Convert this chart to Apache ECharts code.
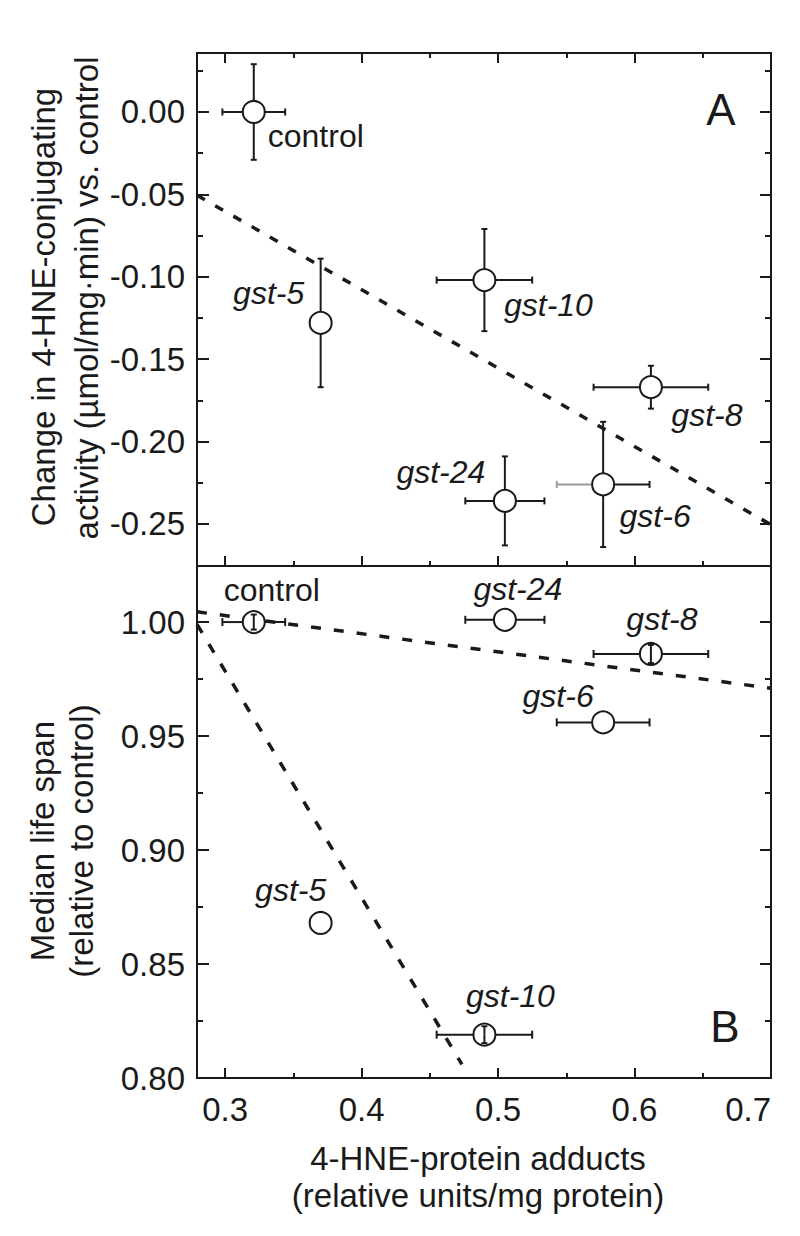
<!DOCTYPE html>
<html><head><meta charset="utf-8">
<script src="https://cdn.jsdelivr.net/npm/echarts@6/dist/echarts.min.js"></script>
<style>html,body{margin:0;padding:0;background:#fff}#c{width:800px;height:1236px}</style>
</head><body><div id="c"></div>
<script>
// ---- data ----
const strains = ['control', 'gst-5', 'gst-10', 'gst-8', 'gst-24', 'gst-6'];
const adducts = [0.321, 0.370, 0.490, 0.612, 0.505, 0.577];
const adductsErr = [0.023, 0, 0.035, 0.042, 0.029, 0.034];
const activityChange = [0.000, -0.128, -0.102, -0.167, -0.236, -0.226];
const activityErr = [0.029, 0.039, 0.031, 0.013, 0.027, 0.038];
const lifeSpan = [1.000, 0.868, 0.819, 0.986, 1.001, 0.956];
const lifeSpanErr = [0.0033, 0, 0.0037, 0.004, 0, 0];
const fitAX = [0.2794, 0.70];
const fitAY = [-0.0505, -0.2505];
const fitB1X = [0.2794, 0.70];
const fitB1Y = [1.0045, 0.971];
const fitB2X = [0.2794, 0.4735];
const fitB2Y = [0.999, 0.806];
const xRange = [0.2794, 0.70];
const yRangeA = [-0.2755, 0.0358];
const yRangeB = [0.80, 1.0246];
const xTicks = [0.3, 0.4, 0.5, 0.6, 0.7];
const xTickLabels = ['0.3', '0.4', '0.5', '0.6', '0.7'];
const xMinorTicks = [0.35, 0.45, 0.55, 0.65];
const yTicksA = [0, -0.05, -0.10, -0.15, -0.20, -0.25];
const yTickLabelsA = ['0.00', '-0.05', '-0.10', '-0.15', '-0.20', '-0.25'];
const yMinorTicksA = [0.025, -0.025, -0.075, -0.125, -0.175, -0.225];
const yTicksB = [0.80, 0.85, 0.90, 0.95, 1.00];
const yTickLabelsB = ['0.80', '0.85', '0.90', '0.95', '1.00'];
const yMinorTicksB = [0.825, 0.875, 0.925, 0.975];
const yTitleA = ['Change in 4-HNE-conjugating', 'activity (\u00b5mol/mg\u00b7min) vs. control'];
const yTitleB = ['Median life span', '(relative to control)'];
const xTitle = ['4-HNE-protein adducts', '(relative units/mg protein)'];

// ---- styles ----
const INK = '#1a1a1a';
const FONT = '"Liberation Sans", Arial, Helvetica, sans-serif';
const labelOffsetA = {'control': [62, 24], 'gst-5': [-52, -30], 'gst-10': [64, 25], 'gst-8': [56, 28], 'gst-24': [-64, -29], 'gst-6': [52, 32]};
const labelOffsetB = {'control': [18, -32], 'gst-24': [13, -31], 'gst-8': [11, -35], 'gst-6': [-45, -26], 'gst-5': [-30, -33], 'gst-10': [26, -39]};
const grayLeftArmA = ['gst-6'];

function pick(v, vals, texts) {
  for (let i = 0; i < vals.length; i++) if (Math.abs(v - vals[i]) < 1e-9) return texts[i];
  return '';
}
function xAx(grid, pos, ticks, len, lv, lt) {
  return {
    type: 'value', gridIndex: grid, position: pos, min: xRange[0], max: xRange[1],
    axisLine: {show: false, onZero: false}, splitLine: {show: false},
    axisTick: {show: true, inside: true, length: len, customValues: ticks, lineStyle: {color: INK, width: 2}},
    axisLabel: lv ? {show: true, customValues: lv, formatter: v => pick(v, lv, lt), margin: 15,
      fontSize: 33, color: INK, fontFamily: FONT, alignMaxLabel: 'right'} : {show: false}
  };
}
function yAx(grid, pos, range, ticks, len, lv, lt) {
  return {
    type: 'value', gridIndex: grid, position: pos, min: range[0], max: range[1],
    axisLine: {show: false, onZero: false}, splitLine: {show: false},
    axisTick: {show: true, inside: true, length: len, customValues: ticks, lineStyle: {color: INK, width: 2}},
    axisLabel: lv ? {show: true, customValues: lv, formatter: v => pick(v, lv, lt), margin: 12,
      fontSize: 33, color: INK, fontFamily: FONT} : {show: false}
  };
}

function errRender(dir, cap, grayLeft) {
  return function (params, api) {
    const x = api.value(0), y = api.value(1), e = api.value(2);
    if (!e) return null;
    const name = strains[params.dataIndex];
    const st = {stroke: INK, lineWidth: 2};
    const c = api.coord([x, y]);
    let a, b;
    if (dir === 'x') { a = api.coord([x - e, y]); b = api.coord([x + e, y]); }
    else { a = api.coord([x, y + e]); b = api.coord([x, y - e]); }
    const leftStyle = (dir === 'x' && grayLeft && grayLeft.indexOf(name) >= 0) ? {stroke: '#9a9a9a', lineWidth: 2} : st;
    const ch = [
      {type: 'line', shape: {x1: a[0], y1: a[1], x2: c[0], y2: c[1]}, style: leftStyle},
      {type: 'line', shape: {x1: c[0], y1: c[1], x2: b[0], y2: b[1]}, style: st}
    ];
    if (dir === 'x') {
      ch.push({type: 'line', shape: {x1: a[0], y1: a[1] - cap, x2: a[0], y2: a[1] + cap}, style: leftStyle});
      ch.push({type: 'line', shape: {x1: b[0], y1: b[1] - cap, x2: b[0], y2: b[1] + cap}, style: st});
    } else {
      ch.push({type: 'line', shape: {x1: a[0] - cap, y1: a[1], x2: a[0] + cap, y2: a[1]}, style: st});
      ch.push({type: 'line', shape: {x1: b[0] - cap, y1: b[1], x2: b[0] + cap, y2: b[1]}, style: st});
    }
    return {type: 'group', children: ch};
  };
}

function scatterSeries(xi, yi, ys, offsets) {
  return {
    type: 'scatter', xAxisIndex: xi, yAxisIndex: yi, z: 4, symbol: 'circle', symbolSize: 22,
    itemStyle: {color: '#fff', borderColor: INK, borderWidth: 2, opacity: 1},
    label: {show: true, position: 'inside', formatter: '{b}', fontSize: 32, color: INK, fontFamily: FONT},
    emphasis: {disabled: true},
    data: strains.map((s, i) => ({
      name: s, value: [adducts[i], ys[i]],
      label: {offset: offsets[s], fontStyle: s === 'control' ? 'normal' : 'italic'}
    }))
  };
}
function errSeries(xi, yi, ys, errs, dir, cap, z, gray) {
  return {
    type: 'custom', xAxisIndex: xi, yAxisIndex: yi, z: z, silent: true,
    renderItem: errRender(dir, cap, gray), encode: {x: 0, y: 1},
    data: strains.map((s, i) => [adducts[i], ys[i], errs[i]])
  };
}
function fitSeries(xi, yi, xs, ys, dash) {
  return {
    type: 'line', xAxisIndex: xi, yAxisIndex: yi, z: 2, symbol: 'none', silent: true,
    lineStyle: {color: INK, width: 3.5, type: dash, cap: 'butt'},
    data: xs.map((x, i) => [x, ys[i]])
  };
}

function txt(text, x, y, size, rot) {
  return {
    type: 'text', x: x, y: y, rotation: rot || 0, silent: true,
    style: {text: text, fontSize: size, fontFamily: FONT, fill: INK,
      align: 'center', verticalAlign: 'middle', textAlign: 'center', textVerticalAlign: 'middle'}
  };
}

const chart = echarts.init(document.getElementById('c'), null, {renderer: 'svg', width: 800, height: 1236});
chart.setOption({
  animation: false,
  backgroundColor: '#fff',
  grid: [
    {left: 197, top: 53, width: 574, height: 513, show: true, borderColor: INK, borderWidth: 2, backgroundColor: 'transparent'},
    {left: 197, top: 566, width: 574, height: 512, show: true, borderColor: INK, borderWidth: 2, backgroundColor: 'transparent'}
  ],
  xAxis: [
    xAx(0, 'bottom', xTicks, 10), xAx(0, 'bottom', xMinorTicks, 5),
    xAx(0, 'top', xTicks, 10), xAx(0, 'top', xMinorTicks, 5),
    xAx(1, 'bottom', xTicks, 10, xTicks, xTickLabels), xAx(1, 'bottom', xMinorTicks, 5)
  ],
  yAxis: [
    yAx(0, 'left', yRangeA, yTicksA, 12, yTicksA, yTickLabelsA), yAx(0, 'left', yRangeA, yMinorTicksA, 6),
    yAx(0, 'right', yRangeA, yTicksA, 11), yAx(0, 'right', yRangeA, yMinorTicksA, 6),
    yAx(1, 'left', yRangeB, yTicksB, 12, yTicksB, yTickLabelsB), yAx(1, 'left', yRangeB, yMinorTicksB, 6),
    yAx(1, 'right', yRangeB, yTicksB, 11), yAx(1, 'right', yRangeB, yMinorTicksB, 6)
  ],
  series: [
    fitSeries(0, 0, fitAX, fitAY, [9, 12]),
    errSeries(0, 0, activityChange, adductsErr, 'x', 3.5, 3, grayLeftArmA),
    errSeries(0, 0, activityChange, activityErr, 'y', 3, 3),
    scatterSeries(0, 0, activityChange, labelOffsetA),
    fitSeries(4, 4, fitB1X, fitB1Y, [10, 13]),
    fitSeries(4, 4, fitB2X, fitB2Y, [10, 13]),
    errSeries(4, 4, lifeSpan, adductsErr, 'x', 4, 3),
    scatterSeries(4, 4, lifeSpan, labelOffsetB),
    errSeries(4, 4, lifeSpan, lifeSpanErr, 'y', 3, 5)
  ],
  graphic: [
    txt('A', 721, 109, 44), txt('B', 725, 1026, 44),
    txt(yTitleA[0], 43, 307, 33, Math.PI / 2), txt(yTitleA[1], 86, 298, 33, Math.PI / 2),
    txt(yTitleB[0], 42, 841, 33, Math.PI / 2), txt(yTitleB[1], 81, 841, 33, Math.PI / 2),
    txt(xTitle[0], 478, 1158, 33), txt(xTitle[1], 478, 1195, 33)
  ]
});
</script></body></html>
